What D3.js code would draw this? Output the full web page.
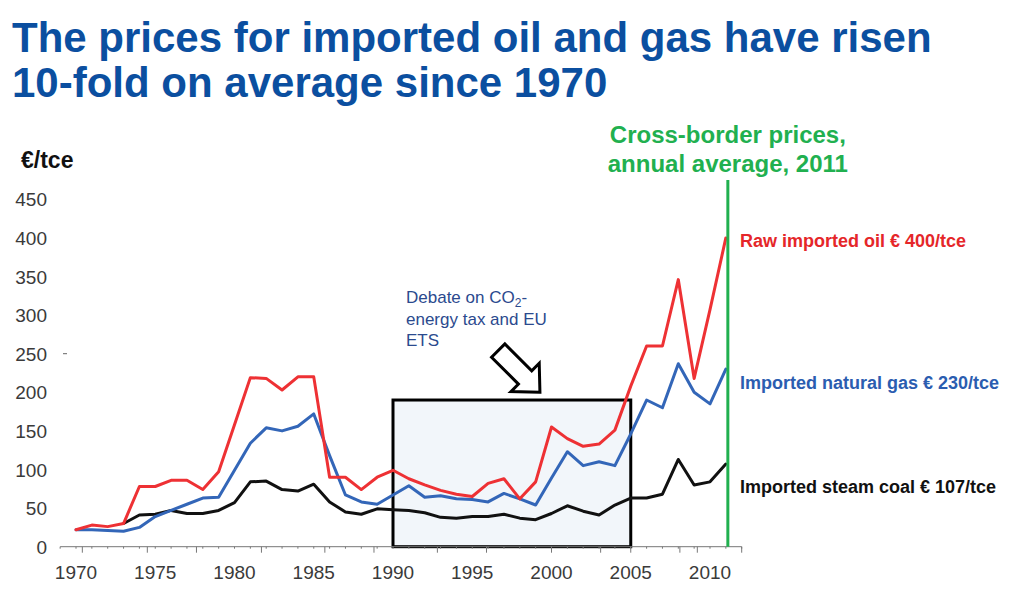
<!DOCTYPE html>
<html>
<head>
<meta charset="utf-8">
<script src="https://cdn.jsdelivr.net/npm/d3@7"></script>
<style>
  body { margin: 0; background: #fff; }
  svg text { font-family: "Liberation Sans", Arial, Helvetica, sans-serif; }
</style>
</head>
<body>
<svg id="chart" width="1018" height="597"></svg>
<script>
// Cross-border import prices, EUR per tonne of coal equivalent
const years = [1970, 1971, 1972, 1973, 1974, 1975, 1976, 1977, 1978, 1979,
               1980, 1981, 1982, 1983, 1984, 1985, 1986, 1987, 1988, 1989,
               1990, 1991, 1992, 1993, 1994, 1995, 1996, 1997, 1998, 1999,
               2000, 2001, 2002, 2003, 2004, 2005, 2006, 2007, 2008, 2009,
               2010, 2011];
const oilPrices = [22, 28, 26, 30, 78, 78, 86, 86, 74, 97,
                   158, 219, 218, 203, 220, 220, 90, 90, 74, 90,
                   99, 88, 80, 73, 68, 65, 82, 88, 62, 84,
                   155, 140, 130, 133, 151, 208, 260, 260, 346, 218,
                   307, 400];
const gasPrices = [22, 22, 21, 20, 25, 39, 47, 55, 63, 64,
                   99, 134, 154, 150, 156, 172, 118, 67, 58, 55,
                   67, 79, 64, 66, 62, 61, 58, 69, 62, 54,
                   89, 123, 105, 110, 105, 146, 190, 180, 237, 200,
                   185, 230];
const coalPrices = [null, null, null, 30, 41, 42, 47, 43, 43, 47,
                    57, 84, 85, 74, 72, 81, 58, 45, 42, 49,
                    48, 47, 44, 38, 37, 39, 39, 42, 37, 35,
                    43, 53, 46, 41, 54, 63, 63, 68, 113, 80,
                    84, 107];

const yTickValues = [0, 50, 100, 150, 200, 250, 300, 350, 400, 450];
const xTickLabels = [1970, 1975, 1980, 1985, 1990, 1995, 2000, 2005, 2010];
const majorTickYears = [1970.4, 1974.5, 1977.6, 1981.7, 1985.7, 1988.8, 1992.8,
                        1995.9, 2000, 2003.1, 2005, 2008.1, 2009.2, 2012];
const debatePeriod = { from: 1990, to: 2005, top: 190 };

const seriesLabels = [
  { text: "Raw imported oil € 400/tce", color: "#e52629", baseline: 247 },
  { text: "Imported natural gas € 230/tce", color: "#2b5db0", baseline: 389 },
  { text: "Imported steam coal € 107/tce", color: "#111111", baseline: 493 }
];

const svg = d3.select("#chart");

const x = d3.scaleLinear().domain([1970, 2011]).range([76, 725.85]);
const y = d3.scaleLinear().domain([0, 450]).range([546.7, 199.3]);

// Title
const title = svg.append("g").attr("fill", "#0b4fa0").attr("font-weight", "bold").attr("font-size", 42);
title.append("text").attr("x", 12).attr("y", 52).text("The prices for imported oil and gas have risen");
title.append("text").attr("x", 12).attr("y", 97).text("10-fold on average since 1970");

// Unit label
svg.append("text").attr("x", 21).attr("y", 168)
  .attr("font-size", 23).attr("font-weight", "bold").attr("fill", "#111")
  .text("€/tce");

// Y tick labels
svg.append("g").selectAll("text").data(yTickValues).join("text")
  .attr("x", 47).attr("y", d => y(d) + 7)
  .attr("text-anchor", "end").attr("font-size", 19).attr("fill", "#3a3a3a")
  .text(d => d);
svg.append("line")
  .attr("x1", 63).attr("x2", 67).attr("y1", y(250)).attr("y2", y(250))
  .attr("stroke", "#666").attr("stroke-width", 1);

// Highlighted period
svg.append("rect")
  .attr("x", x(debatePeriod.from)).attr("y", y(debatePeriod.top))
  .attr("width", x(debatePeriod.to) - x(debatePeriod.from))
  .attr("height", y(0) - y(debatePeriod.top))
  .attr("fill", "#f2f6fa").attr("stroke", "#000").attr("stroke-width", 3);

// X axis
const axisG = svg.append("g").attr("transform", `translate(0,${y(0)})`);
axisG.append("line").attr("x1", x(1969)).attr("x2", x(2012)).attr("stroke", "#777").attr("stroke-width", 1);
axisG.selectAll("line.minor").data(d3.range(1969, 2013)).join("line")
  .attr("class", "minor")
  .attr("x1", d => x(d)).attr("x2", d => x(d)).attr("y1", 0).attr("y2", 2)
  .attr("stroke", "#777").attr("stroke-width", 1);
axisG.selectAll("line.major").data(majorTickYears).join("line")
  .attr("class", "major")
  .attr("x1", d => x(d)).attr("x2", d => x(d)).attr("y1", 0).attr("y2", 6)
  .attr("stroke", "#777").attr("stroke-width", 1);
svg.append("g").selectAll("text").data(xTickLabels).join("text")
  .attr("x", d => x(d)).attr("y", 579)
  .attr("text-anchor", "middle").attr("font-size", 19).attr("fill", "#3a3a3a")
  .text(d => d);

// Price lines
const line = values => d3.line()
  .defined((d, i) => values[i] !== null)
  .x((d, i) => x(years[i]))
  .y((d, i) => y(values[i]))(values);

[[coalPrices, "#111111"], [gasPrices, "#3366b8"], [oilPrices, "#ee3134"]].forEach(([vals, color]) => {
  svg.append("path").attr("d", line(vals))
    .attr("fill", "none").attr("stroke", color).attr("stroke-width", 3)
    .attr("stroke-linejoin", "round").attr("stroke-linecap", "round");
});

// 2011 marker and heading
const xMark = x(2011) + 2;
svg.append("line").attr("x1", xMark).attr("x2", xMark).attr("y1", 180).attr("y2", y(0))
  .attr("stroke", "#21b04f").attr("stroke-width", 3);
const greenHead = svg.append("g").attr("fill", "#21b04f").attr("font-weight", "bold")
  .attr("font-size", 24).attr("text-anchor", "middle");
greenHead.append("text").attr("x", xMark).attr("y", 143).text("Cross-border prices,");
greenHead.append("text").attr("x", xMark).attr("y", 172).text("annual average, 2011");

// Series labels
svg.append("g").selectAll("text").data(seriesLabels).join("text")
  .attr("x", 740).attr("y", d => d.baseline)
  .attr("font-size", 18).attr("font-weight", "bold")
  .attr("fill", d => d.color)
  .text(d => d.text);

// Annotation arrow, pointing into the highlighted period
const arrowShape = [[0, 0], [-21, 20], [-21, 9.4], [-59, 9.4], [-59, -9.4], [-21, -9.4], [-21, -20]];
svg.append("polygon")
  .attr("points", arrowShape.map(p => p.join(",")).join(" "))
  .attr("transform", `translate(${x(1999.27)},${y(200)}) rotate(45)`)
  .attr("fill", "#fff").attr("stroke", "#000").attr("stroke-width", 3)
  .attr("stroke-linejoin", "miter");

// Annotation text
const note = svg.append("g").attr("fill", "#2b4a8e").attr("font-size", 17);
const l1 = note.append("text").attr("x", 406).attr("y", 303);
l1.append("tspan").text("Debate on CO");
l1.append("tspan").attr("font-size", 12).attr("dy", 4).text("2");
l1.append("tspan").attr("dy", -4).text("-");
note.append("text").attr("x", 406).attr("y", 324.5).text("energy tax and EU");
note.append("text").attr("x", 406).attr("y", 346).text("ETS");
</script>
</body>
</html>
